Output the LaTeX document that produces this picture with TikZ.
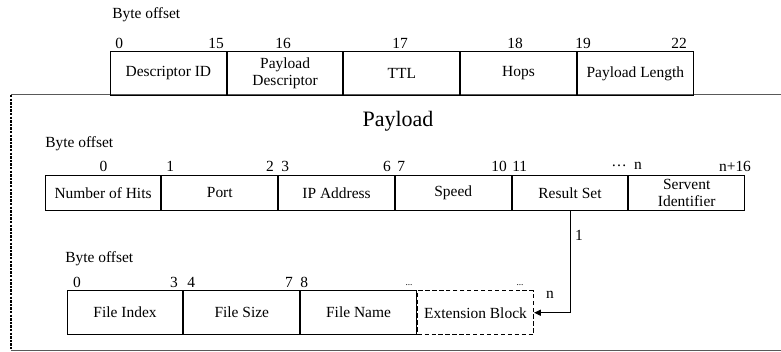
\documentclass[tikz,border=0pt]{standalone}
\usepackage{fontspec}
\setmainfont{Liberation Serif}
\usetikzlibrary{calc,arrows.meta}

\tikzset{
  field/.style={draw, line width=0.75pt, inner sep=0pt, minimum width=86.8pt,
    minimum height=33pt, anchor=north west, align=center},
  lowfield/.style={field, minimum height=26.25pt},
  offs/.style={inner sep=0pt},
  dots/.style={inner sep=0pt, font=\fontsize{7}{8}\selectfont, anchor=base},
}

\begin{document}
\begin{tikzpicture}[x=0.75pt, y=-0.75pt, font=\fontsize{11.6}{12.75}\selectfont]
  \useasboundingbox (0,0) rectangle (781,352);
  % payload frame
  \draw[black!65, line width=0.75pt] (781,95) -- (11,95);
  \draw[black!65, line width=0.75pt] (11,350) -- (781,350);
  \draw[black, line width=0.8pt, dash pattern=on 1.8pt off 0.9pt] (11,95) -- (11,350);

  % header
  \node[offs, anchor=west] (bo1) at (112,15) {Byte offset};
  \node[field] (did) at (110,51) {Descriptor ID};
  \node[field] (pdesc) at (did.north east) {Payload\\Descriptor};
  \node[field] (ttl) at (pdesc.north east) {TTL};
  \node[field] (hops) at (ttl.north east) {Hops};
  \node[field] (plen) at (hops.north east) {Payload Length};
  \node[offs, anchor=west] (h0) at (115,43) {0};
  \node[offs, anchor=east] (h15) at (224,43) {15};
  \node[offs] (h16) at (283,43) {16};
  \node[offs] (h17) at (400,43) {17};
  \node[offs] (h18) at (515,43) {18};
  \node[offs, anchor=west] (h19) at (575,43) {19};
  \node[offs, anchor=east] (h22) at (687,43) {22};

  % payload
  \node[offs, font=\fontsize{16.5}{18}\selectfont] (title) at (398,121) {Payload};
  \node[offs, anchor=west] (bo2) at (45,144) {Byte offset};
  \node[lowfield] (hits) at (44.7,175) {Number of Hits};
  \node[lowfield] (port) at (hits.north east) {Port};
  \node[lowfield] (ip) at (port.north east) {IP Address};
  \node[lowfield] (speed) at (ip.north east) {Speed};
  \node[lowfield] (rset) at (speed.north east) {Result Set};
  \node[lowfield] (sid) at (rset.north east) {Servent\\Identifier};
  \node[offs] (p0) at (103.5,166) {0};
  \node[offs, anchor=west] (p1) at (166,166) {1};
  \node[offs, anchor=east] (p2) at (274,166) {2};
  \node[offs, anchor=west] (p3) at (281,166) {3};
  \node[offs, anchor=east] (p6) at (391,166) {6};
  \node[offs, anchor=west] (p7) at (397,166) {7};
  \node[offs, anchor=east] (p10) at (507,166) {10};
  \node[offs, anchor=west] (p11) at (512,166) {11};
  \node[offs] (pdots) at (619,166) {\ldots};
  \node[offs] (pn) at (638,166) {n};
  \node[offs] (pn16) at (735,166) {n+16};

  % result set
  \node[offs, anchor=west] (bo3) at (65,259) {Byte offset};
  \node[field] (findex) at (66.7,290) {File Index};
  \node[field] (fsize) at (findex.north east) {File Size};
  \node[field] (fname) at (fsize.north east) {File Name};
  \node[field, dash pattern=on 3.2pt off 2pt, line width=1.1pt] (ext) at (fname.north east) {Extension Block};
  \node[offs] (r0) at (77,282) {0};
  \node[offs, anchor=east] (r3) at (178,282) {3};
  \node[offs, anchor=west] (r4) at (187,282) {4};
  \node[offs, anchor=east] (r7) at (293,282) {7};
  \node[offs, anchor=west] (r8) at (300,282) {8};
  \node[dots] (rdots1) at (409,286) {...};
  \node[dots] (rdots2) at (520,286) {...};

  \draw[line width=0.75pt, -{Triangle[length=5pt, width=4.5pt]}] (rset.south) |- (ext.east);
  \node[offs] (one) at (579,235) {1};
  \node[offs] (many) at (550,295) {n};
\end{tikzpicture}
\end{document}
